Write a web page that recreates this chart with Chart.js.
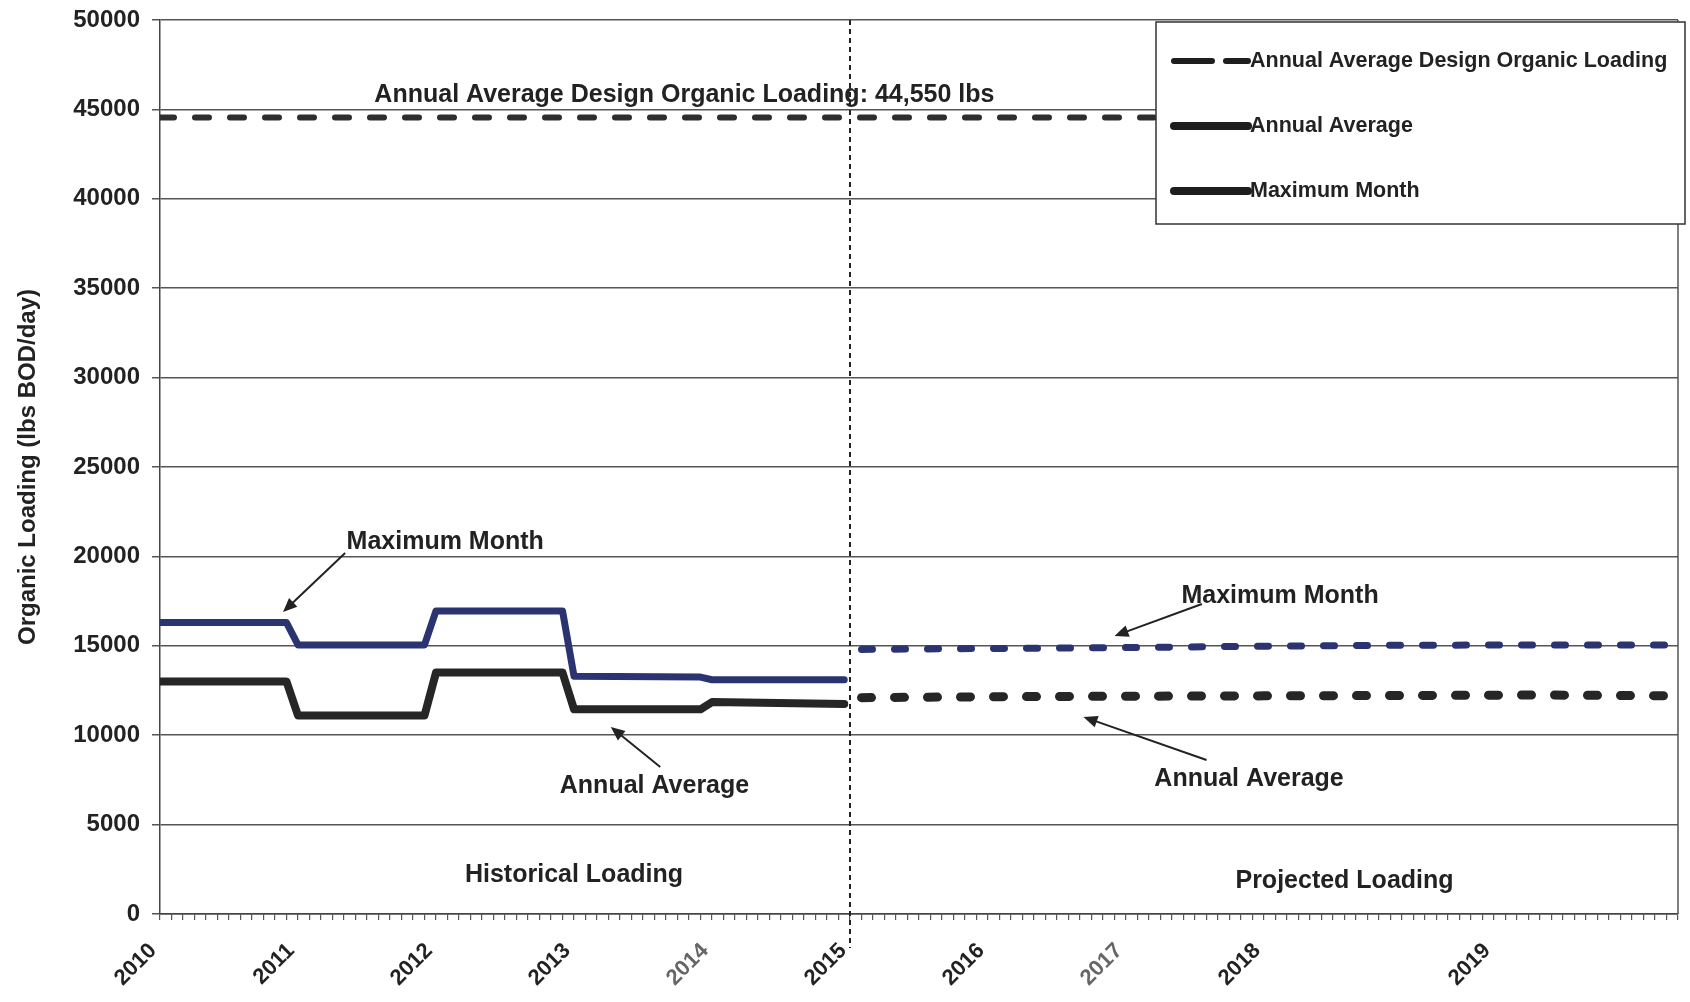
<!DOCTYPE html>
<html>
<head>
<meta charset="utf-8">
<script src="https://cdn.jsdelivr.net/npm/chart.js@4.4.1/dist/chart.umd.min.js"></script>
<style>
  html, body { margin: 0; padding: 0; background: #fff; }
</style>
</head>
<body>
<canvas id="chart" width="1690" height="1002"></canvas>
<script>
// x values are months counted from January 2010
const yearLabels = ["2010", "2011", "2012", "2013", "2014", "2015", "2016", "2017", "2018", "2019"];
const yearTickMonths = [0, 12, 24, 36, 48, 60, 72, 84, 96, 116];
const lastMonth = 132;
const splitMonth = 60; // historical / projected

const designX = [0, 132];
const designY = [44550, 44550];

const avgHistX = [0, 11, 12, 23, 24, 35, 36, 47, 48, 59.5];
const avgHistY = [13000, 13000, 11100, 11100, 13500, 13500, 11450, 11450, 11850, 11750];

const maxHistX = [0, 11, 12, 23, 24, 35, 36, 47, 48, 59.5];
const maxHistY = [16300, 16300, 15050, 15050, 16950, 16950, 13300, 13250, 13100, 13100];

const avgProjX = [61, 72, 84, 96, 108, 120, 132];
const avgProjY = [12100, 12150, 12180, 12200, 12220, 12250, 12200];

const maxProjX = [61, 72, 84, 96, 108, 120, 132];
const maxProjY = [14800, 14850, 14900, 14980, 15030, 15050, 15050];

const FONT = "'Liberation Sans', Arial, sans-serif";
const INK = "#222";

function pts(xs, ys) {
  return xs.map((x, i) => ({ x: x, y: ys[i] }));
}

// callouts, placed in data units (months, lbs/day)
const notes = [
  { text: "Annual Average Design Organic Loading: 44,550 lbs", x: 45.6, y: 45800 },
  { text: "Maximum Month", x: 24.8, y: 20800, arrow: [16.1, 20190, 10.7, 16890] },
  { text: "Annual Average", x: 43.0, y: 7160, arrow: [43.5, 8220, 39.2, 10460] },
  { text: "Maximum Month", x: 97.4, y: 17790, arrow: [90.6, 17340, 83.0, 15550] },
  { text: "Annual Average", x: 94.7, y: 7550, arrow: [91.0, 8610, 80.3, 11020] },
  { text: "Historical Loading", x: 36.0, y: 2180 },
  { text: "Projected Loading", x: 103.0, y: 1850 }
];

const legendRows = [
  { label: "Annual Average Design Organic Loading", dash: [38, 14], width: 6 },
  { label: "Annual Average", dash: [], width: 8 },
  { label: "Maximum Month", dash: [], width: 8 }
];

function arrow(ctx, x1, y1, x2, y2) {
  const a = Math.atan2(y2 - y1, x2 - x1);
  const len = 14, half = 6;
  ctx.beginPath();
  ctx.moveTo(x1, y1);
  ctx.lineTo(x2 - Math.cos(a) * len * 0.8, y2 - Math.sin(a) * len * 0.8);
  ctx.stroke();
  ctx.beginPath();
  ctx.moveTo(x2, y2);
  ctx.lineTo(x2 - Math.cos(a) * len - Math.sin(a) * half, y2 - Math.sin(a) * len + Math.cos(a) * half);
  ctx.lineTo(x2 - Math.cos(a) * len + Math.sin(a) * half, y2 - Math.sin(a) * len - Math.cos(a) * half);
  ctx.closePath();
  ctx.fill();
}

const decor = {
  id: "decor",
  beforeDatasetsDraw(chart) {
    const { ctx, chartArea } = chart;
    ctx.save();
    // right frame
    ctx.strokeStyle = "#555";
    ctx.lineWidth = 1.5;
    ctx.beginPath();
    ctx.moveTo(chartArea.right, chartArea.top);
    ctx.lineTo(chartArea.right, chartArea.bottom);
    ctx.stroke();
    ctx.restore();
  },
  afterDatasetsDraw(chart) {
    const { ctx, chartArea, scales } = chart;
    const xs = scales.x, ys = scales.y;
    ctx.save();

    // dotted divider between historical and projected
    const sx = xs.getPixelForValue(splitMonth);
    ctx.strokeStyle = "#222";
    ctx.lineWidth = 2;
    ctx.setLineDash([5, 4]);
    ctx.beginPath();
    ctx.moveTo(sx, chartArea.top);
    ctx.lineTo(sx, chartArea.bottom + 34);
    ctx.stroke();
    ctx.setLineDash([]);

    // callouts
    ctx.fillStyle = INK;
    ctx.strokeStyle = INK;
    ctx.lineWidth = 2;
    ctx.font = "bold 25px " + FONT;
    ctx.textAlign = "center";
    ctx.textBaseline = "middle";
    notes.forEach(n => {
      ctx.fillText(n.text, xs.getPixelForValue(n.x), ys.getPixelForValue(n.y));
      if (n.arrow) {
        const a = n.arrow;
        arrow(ctx, xs.getPixelForValue(a[0]), ys.getPixelForValue(a[1]),
                   xs.getPixelForValue(a[2]), ys.getPixelForValue(a[3]));
      }
    });

    // boxed legend, top right
    const bx = chartArea.right - 522, by = chartArea.top + 2, bw = 529, bh = 202;
    ctx.fillStyle = "#fff";
    ctx.fillRect(bx, by, bw, bh);
    ctx.strokeStyle = "#333";
    ctx.lineWidth = 1.5;
    ctx.strokeRect(bx, by, bw, bh);
    ctx.font = "bold 21.5px " + FONT;
    ctx.textAlign = "left";
    legendRows.forEach((r, i) => {
      const ry = by + 39 + i * 65;
      ctx.strokeStyle = "#1e1e1e";
      ctx.lineWidth = r.width;
      ctx.lineCap = "round";
      ctx.setLineDash(r.dash);
      ctx.beginPath();
      ctx.moveTo(bx + 18, ry);
      ctx.lineTo(bx + 92, ry);
      ctx.stroke();
      ctx.setLineDash([]);
      ctx.fillStyle = INK;
      ctx.fillText(r.label, bx + 94, ry);
    });
    ctx.restore();
  }
};

new Chart(document.getElementById("chart"), {
  type: "line",
  data: {
    datasets: [
      { label: "Annual Average Design Organic Loading", data: pts(designX, designY),
        borderColor: "#2e2e2e", borderWidth: 6, borderDash: [14, 21], borderCapStyle: "round" },
      { label: "Annual Average", data: pts(avgHistX, avgHistY),
        borderColor: "#262626", borderWidth: 8, borderCapStyle: "round", borderJoinStyle: "round" },
      { label: "Maximum Month", data: pts(maxHistX, maxHistY),
        borderColor: "#2b3470", borderWidth: 7, borderCapStyle: "round", borderJoinStyle: "round" },
      { label: "Annual Average (projected)", data: pts(avgProjX, avgProjY),
        borderColor: "#262626", borderWidth: 9, borderDash: [10, 23], borderCapStyle: "round" },
      { label: "Maximum Month (projected)", data: pts(maxProjX, maxProjY),
        borderColor: "#2b3470", borderWidth: 7, borderDash: [11, 22], borderCapStyle: "round" }
    ]
  },
  options: {
    responsive: false,
    animation: false,
    elements: { point: { radius: 0 }, line: { tension: 0 } },
    layout: { padding: { top: 20, right: 12, left: 0, bottom: 0 } },
    plugins: { legend: { display: false }, tooltip: { enabled: false } },
    scales: {
      x: {
        type: "linear",
        min: 0,
        max: lastMonth,
        afterBuildTicks: s => {
          s.ticks = Array.from({ length: lastMonth + 1 }, (_, i) => ({ value: i }));
        },
        afterFit: s => {
          s.height = 88;
          s.paddingLeft = 0;
          s.paddingRight = 0;
        },
        grid: { drawOnChartArea: false, drawTicks: true, tickLength: 6, color: "#555", lineWidth: 1.2 },
        border: { display: true, color: "#444", width: 1.5 },
        ticks: {
          autoSkip: false,
          minRotation: 45,
          maxRotation: 45,
          padding: 18,
          labelOffset: -7,
          color: c => (c.tick && (c.tick.value === 48 || c.tick.value === 84)) ? "#666" : INK,
          font: { family: FONT, size: 22, weight: "bold" },
          callback: v => {
            const k = yearTickMonths.indexOf(v);
            return k >= 0 ? yearLabels[k] : "";
          }
        }
      },
      y: {
        min: 0,
        max: 50000,
        afterFit: s => {
          s.width = 160;
          s.paddingTop = 0;
          s.paddingBottom = 0;
        },
        grid: { color: "#555", lineWidth: 1.5, tickLength: 8 },
        border: { display: true, color: "#444", width: 1.5 },
        ticks: {
          stepSize: 5000,
          padding: 12,
          color: INK,
          font: { family: FONT, size: 24, weight: "bold" },
          callback: v => String(v)
        },
        title: {
          display: true,
          text: "Organic Loading (lbs BOD/day)",
          color: INK,
          font: { family: FONT, size: 24, weight: "bold" },
          padding: { top: 14, bottom: 0 }
        }
      }
    }
  },
  plugins: [decor]
});
</script>
</body>
</html>
